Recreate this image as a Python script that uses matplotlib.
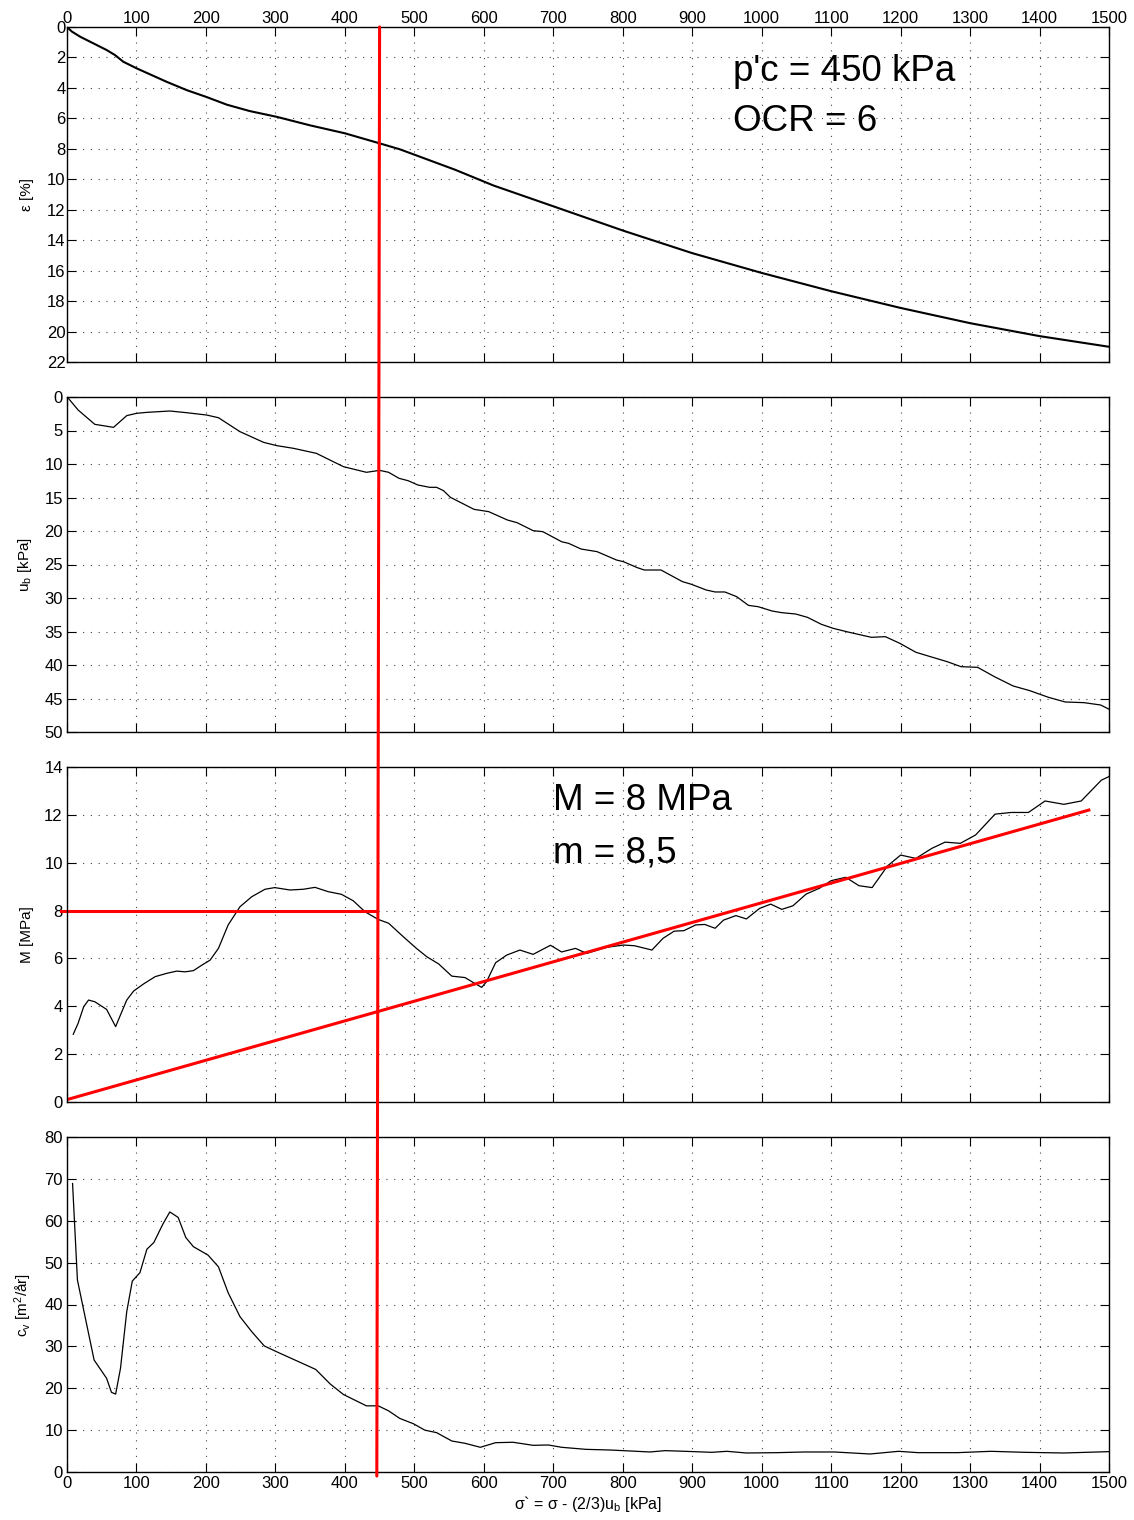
import matplotlib
matplotlib.use('Agg')
import matplotlib.pyplot as plt
from matplotlib.patches import ConnectionPatch

plt.rcParams['font.family'] = ['Liberation Sans', 'DejaVu Sans']
plt.rcParams['mathtext.fontset'] = 'custom'
plt.rcParams['mathtext.rm'] = 'Liberation Sans'
plt.rcParams['mathtext.it'] = 'Liberation Sans'

# effective stress [kPa] and strain [%]
sig_eps = [0, 7, 19, 33, 57, 69, 81, 100, 143, 172, 201, 230, 263, 302, 350, 400, 450, 479,
           501, 559, 614, 701, 801, 900, 1000, 1100, 1200, 1300, 1400, 1500]
eps = [0, 0.3, 0.64, 0.96, 1.51, 1.84, 2.28, 2.71, 3.59, 4.14, 4.6, 5.1, 5.52, 5.9, 6.46, 6.98,
       7.64, 8.03, 8.40, 9.38, 10.41, 11.79, 13.38, 14.85, 16.15, 17.35, 18.45, 19.45, 20.3, 21.0]

# pore pressure u_b [kPa]
sig_ub = [2, 16, 40, 67, 86, 100, 114, 148, 172, 201, 218, 249, 283, 302, 326, 359, 398, 431, 450, 463,
          478, 491, 505, 522, 532, 542, 552, 586, 607, 634, 648, 671, 685, 712, 722, 740, 763, 791, 801, 821,
          831, 855, 886, 899, 920, 933, 947, 964, 981, 995, 1015, 1029, 1049, 1066, 1086, 1103, 1124, 1158,
          1178, 1199, 1222, 1243, 1267, 1287, 1311, 1335, 1362, 1386, 1413, 1437, 1464, 1488, 1500]
ub = [0.2, 1.94, 4.08, 4.53, 2.78, 2.44, 2.3, 2.09, 2.34, 2.69, 3.09, 5.17, 6.77, 7.26, 7.66, 8.41,
      10.4, 11.24, 10.95, 11.24, 12.14, 12.49, 13.13, 13.48, 13.48, 13.98, 14.98, 16.77, 17.11, 18.36,
      18.76, 19.95, 20.1, 21.6, 21.84, 22.69, 23.08, 24.33, 24.58, 25.47, 25.82, 25.82, 27.56, 27.96,
      28.8, 29.1, 29.1, 29.8, 31.1, 31.3, 31.94, 32.19, 32.39, 32.89, 33.93, 34.53, 35.07, 35.87, 35.77,
      36.77, 38.1, 38.76, 39.5, 40.25, 40.35, 41.74, 43.13, 43.83, 44.83, 45.52, 45.62, 45.97, 46.6]

# modulus M [MPa]
sig_M = [9, 16, 24, 31, 40, 57, 70, 76, 86, 96, 110, 127, 144, 158, 170, 182, 192, 206, 218, 232,
         249, 266, 285, 299, 321, 340, 357, 376, 395, 412, 429, 448, 463, 484, 503, 518, 535, 554, 573, 585,
         597, 604, 617, 633, 652, 671, 696, 712, 732, 748, 776, 801, 817, 842, 858, 874, 888, 905, 918, 933,
         945, 963, 978, 997, 1013, 1029, 1045, 1064, 1083, 1100, 1121, 1140, 1159, 1181, 1200, 1222, 1245,
         1264, 1286, 1308, 1336, 1359, 1384, 1408, 1435, 1460, 1489, 1500]
M = [2.83, 3.29, 3.98, 4.26, 4.19, 3.87, 3.15, 3.57, 4.26, 4.64, 4.93, 5.24, 5.38, 5.47, 5.44, 5.49,
     5.68, 5.93, 6.42, 7.4, 8.16, 8.58, 8.89, 8.96, 8.86, 8.89, 8.97, 8.79, 8.68, 8.41, 7.95, 7.63, 7.47,
     6.91, 6.42, 6.07, 5.77, 5.26, 5.2, 4.99, 4.79, 5.03, 5.82, 6.14, 6.35, 6.17, 6.55, 6.27, 6.42, 6.21,
     6.46, 6.56, 6.53, 6.35, 6.84, 7.14, 7.16, 7.4, 7.42, 7.26, 7.6, 7.79, 7.65, 8.09, 8.27, 8.05, 8.2,
     8.69, 8.93, 9.25, 9.39, 9.04, 8.96, 9.86, 10.32, 10.18, 10.6, 10.86, 10.81, 11.16, 12.03, 12.1, 12.1,
     12.58, 12.44, 12.58, 13.45, 13.6]

# consolidation coefficient c_v [m2/year]
sig_cv = [8, 15, 27, 39, 57, 64, 70, 77, 86, 94, 105, 115, 125, 138, 148, 160, 171, 182, 203, 218,
          232, 249, 266, 284, 302, 326, 358, 379, 398, 431, 448, 463, 479, 499, 515, 532, 554, 573, 595, 617,
          642, 671, 693, 712, 747, 782, 813, 839, 861, 890, 928, 950, 978, 1023, 1061, 1105, 1156, 1197,
          1225, 1282, 1330, 1378, 1435, 1500]
cv = [68.9, 45.85, 36.3, 26.75, 22.37, 19.03, 18.6, 24.75, 38.3, 45.6, 47.6, 53.2, 54.8, 59.2, 62.1,
      60.8, 56.0, 53.8, 51.8, 49.0, 42.8, 37.1, 33.5, 30.1, 28.7, 26.9, 24.5, 21.0, 18.5, 15.8, 15.8,
      14.6, 12.8, 11.5, 10.0, 9.4, 7.4, 6.85, 5.9, 7.0, 7.1, 6.37, 6.45, 5.9, 5.41, 5.25, 5.0, 4.78,
      5.1, 4.94, 4.7, 4.94, 4.54, 4.62, 4.78, 4.78, 4.3, 4.94, 4.62, 4.62, 4.94, 4.7, 4.54, 4.86]

# interpretation lines
pc_line = [450, 446]          # preconsolidation line, top / bottom end
M_level = 8
M_level_x = [-8, 443]
m_line_x = [0, 1471]
m_line_y = [0.1, 12.2]

fig = plt.figure(figsize=(11.34, 15.2), dpi=100)
left = 67 / 1134
width = (1109 - 67) / 1134
height = 335 / 1520
bottoms = [1 - 362 / 1520, 1 - 732 / 1520, 1 - 1102 / 1520, 1 - 1472 / 1520]
axs = [fig.add_axes([left, b, width, height]) for b in bottoms]

xt = list(range(0, 1501, 100))
for ax in axs:
    ax.set_xlim(0, 1500)
    ax.set_xticks(xt)
    ax.grid(True, linestyle=(0, (1, 6)), color='#444444', linewidth=0.8)
    ax.tick_params(direction='in', top=True, right=True, length=6.5, width=0.8,
                   labelsize=12, pad=3)
    ax.tick_params(labelbottom=False)
    for s in ax.spines.values():
        s.set_linewidth(1.0)

ax1, ax2, ax3, ax4 = axs

ax1.plot(sig_eps, eps, color='black', linewidth=1.5)
ax1.set_ylim(22, 0)
ax1.set_yticks(range(0, 23, 2))
ax1.tick_params(labeltop=True, pad=1)
ax1.set_ylabel('ε [%]', fontsize=11)
ax1.text(959, 2.9, "p'c = 450 kPa", fontsize=26.5, va='center')
ax1.text(959, 6.2, 'OCR = 6', fontsize=26.5, va='center')

ax2.plot(sig_ub, ub, color='black', linewidth=0.9)
ax2.set_ylim(50, 0)
ax2.set_yticks(range(0, 51, 5))
ax2.set_ylabel(r'u$_\mathrm{b}$ [kPa]', fontsize=11)

ax3.plot(sig_M, M, color='black', linewidth=0.9)
ax3.plot(m_line_x, m_line_y, color='red', linewidth=2.2)
ax3.plot(M_level_x, [M_level, M_level], color='red', linewidth=2.2, clip_on=False)
ax3.set_ylim(0, 14)
ax3.set_yticks(range(0, 15, 2))
ax3.set_ylabel('M [MPa]', fontsize=11)
ax3.text(700, 12.6, 'M = 8 MPa', fontsize=26.5, va='center')
ax3.text(700, 10.4, 'm = 8,5', fontsize=26.5, va='center')

ax4.plot(sig_cv, cv, color='black', linewidth=0.9)
ax4.set_ylim(0, 80)
ax4.set_yticks(range(0, 81, 10))
ax4.tick_params(labelbottom=True)
ax4.set_ylabel(r'c$_\mathrm{v}$ [m$^\mathrm{2}$/år]', fontsize=11)
ax4.set_xlabel(r'σ` = σ - (2/3)u$_\mathrm{b}$ [kPa]', fontsize=11.5, labelpad=2)

for ax in axs:
    ax.yaxis.set_label_coords(-0.032, 0.5)

# vertical line through all panels
con = ConnectionPatch(xyA=(pc_line[0], 0), coordsA=ax1.transData,
                      xyB=(pc_line[1], -0.012), coordsB=ax4.get_xaxis_transform(),
                      color='red', linewidth=2.2, zorder=10)
fig.add_artist(con)

fig.savefig('out.png', dpi=100)
